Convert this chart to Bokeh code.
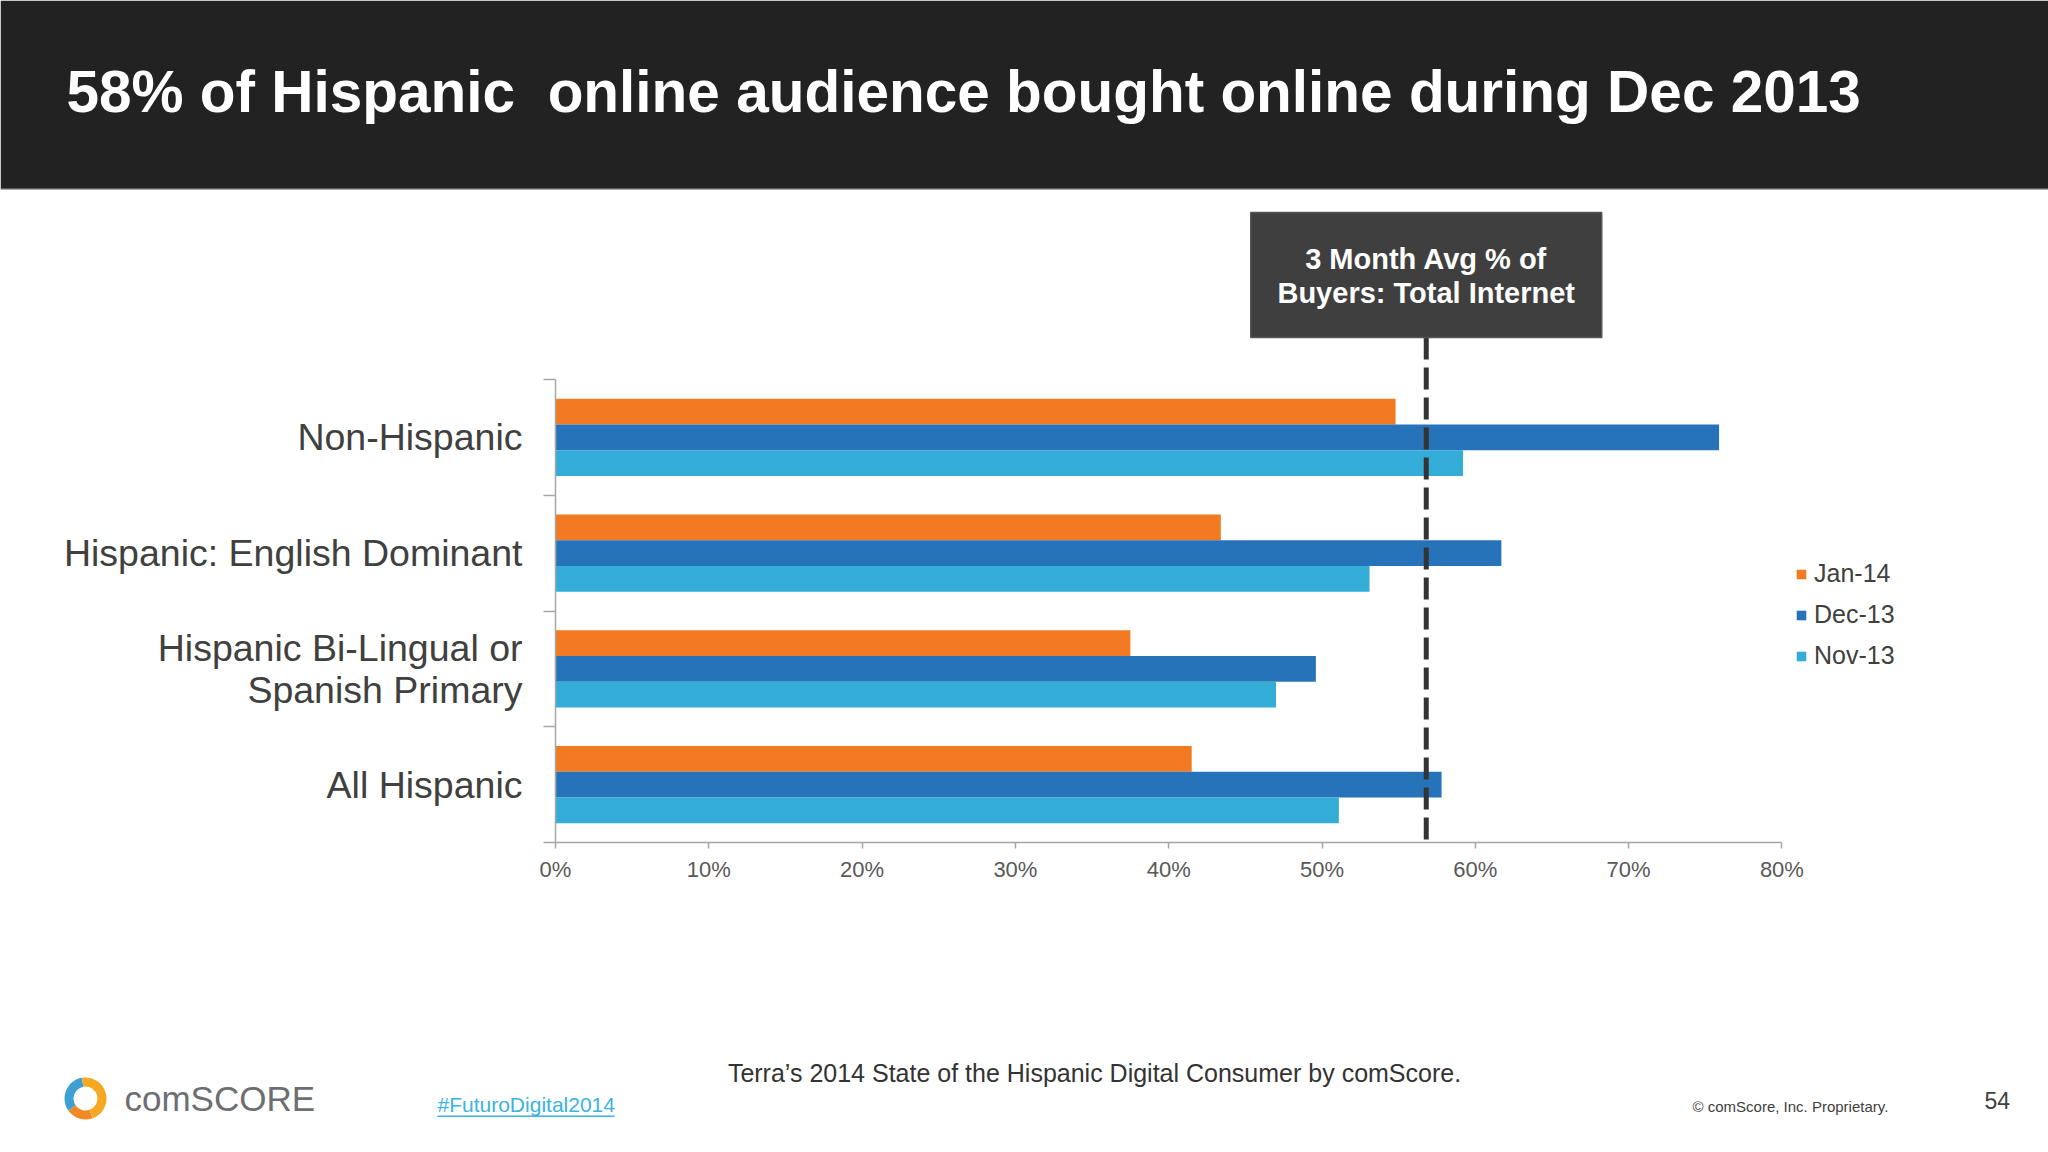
from bokeh.plotting import figure
from bokeh.models import (Range1d, FixedTicker, Legend, LegendItem, Label, LinearAxis,
                          BoxAnnotation)
from bokeh.embed import file_html
from bokeh.resources import INLINE

# ---------------- data ----------------
categories = ["All Hispanic", "Hispanic Bi-Lingual or\nSpanish Primary",
              "Hispanic: English Dominant", "Non-Hispanic"]
series_names = ["Jan-14", "Dec-13", "Nov-13"]
jan14 = [41.5, 37.5, 43.4, 54.8]
dec13 = [57.8, 49.6, 61.7, 75.9]
nov13 = [51.1, 47.0, 53.1, 59.2]
avg_total_internet = 56.8
x_ticks = [0, 10, 20, 30, 40, 50, 60, 70, 80]
x_tick_labels = ["0%", "10%", "20%", "30%", "40%", "50%", "60%", "70%", "80%"]

title_text = "58% of Hispanic\u00a0 online audience bought online during Dec 2013"
callout_lines = ["3 Month Avg % of", "Buyers: Total Internet"]
source_text = "Terra\u2019s 2014 State of the Hispanic Digital Consumer by comScore."
hashtag_text = "#FuturoDigital2014"
copyright_text = "\u00a9 comScore, Inc. Proprietary."
page_text = "54"
logo_text = "comSCORE"

# ---------------- geometry (pixels of the 2048x1152 canvas) ----------------
FONT = "Liberation Sans"
W, H = 2048, 1152
X0 = 555.0          # pixel column of the 0% line
Y0 = 842.0          # pixel row of the value axis
PX_PER_PCT = 15.33
PX_PER_CAT = 115.75


def px(X):
    return (X - X0) / PX_PER_PCT


def py(Y):
    return (Y0 - Y) / PX_PER_CAT


colors = ["#f27a22", "#2673b9", "#33acd8"]
offsets = [0.222, 0.0, -0.222]
bar_h = 0.222

p = figure(width=W, height=H, x_range=Range1d(px(0), px(W)), y_range=Range1d(py(H), py(0)),
           output_backend="svg", toolbar_location=None, min_border=0,
           x_axis_location=None, y_axis_location=None,
           outline_line_color=None, background_fill_color="white", border_fill_color="white")
p.grid.visible = False

# header bar + title
p.add_layout(BoxAnnotation(bottom=py(188), fill_color="#222222", fill_alpha=1.0,
                           line_color=None, level="underlay"))
p.add_layout(BoxAnnotation(bottom=py(189), top=py(187.5), fill_color="#5a5a5a", fill_alpha=1.0,
                           line_color=None, level="underlay"))
p.add_layout(Label(x=px(66), y=py(91), text=title_text, text_font=FONT,
                   text_font_style="bold", text_font_size="58.5px", text_color="white",
                   text_baseline="middle"))

# bars
cat_pos = [i + 0.5 for i in range(len(categories))]
renderers = []
for vals, col, off in zip([jan14, dec13, nov13], colors, offsets):
    r = p.hbar(y=[c + off for c in cat_pos], left=0, right=vals, height=bar_h,
               fill_color=col, line_color=None)
    renderers.append(r)

# dashed average line + callout box
CALLOUT_HALF_W = 175.5 / PX_PER_PCT
p.segment(x0=[avg_total_internet], y0=[py(337)], x1=[avg_total_internet], y1=[py(845)],
          line_color="#333333", line_width=5, line_dash="22 8")
p.quad(left=[avg_total_internet - CALLOUT_HALF_W], right=[avg_total_internet + CALLOUT_HALF_W],
       bottom=[py(337)], top=[py(212)], fill_color="#3f3f3f", line_color="#555555",
       line_width=1.5)
for line, Y in zip(callout_lines, [258, 292]):
    p.add_layout(Label(x=avg_total_internet, y=py(Y), text=line,
                       text_align="center", text_baseline="middle", text_font=FONT,
                       text_font_style="bold", text_font_size="29px", text_color="white"))

# y axis (categories)
ya = LinearAxis(fixed_location=0)
ya.ticker = FixedTicker(ticks=cat_pos, minor_ticks=list(range(len(categories) + 1)))
ya.major_label_overrides = {c: lab for c, lab in zip(cat_pos, categories)}
ya.bounds = (0, len(categories))
ya.axis_line_color = "#a6a6a6"
ya.axis_line_width = 1.5
ya.major_tick_out = 0
ya.major_tick_in = 0
ya.minor_tick_out = 12
ya.minor_tick_in = 0
ya.minor_tick_line_color = "#a6a6a6"
ya.minor_tick_line_width = 1.5
ya.major_label_text_font = FONT
ya.major_label_text_font_size = "37.5px"
ya.major_label_text_color = "#404040"
ya.major_label_text_line_height = 1.0
ya.major_label_standoff = 21
p.add_layout(ya, "left")

# x axis (percent)
xa = LinearAxis(fixed_location=0)
xa.ticker = FixedTicker(ticks=x_ticks, minor_ticks=[])
xa.major_label_overrides = {t: lab for t, lab in zip(x_ticks, x_tick_labels)}
xa.bounds = (x_ticks[0], x_ticks[-1])
xa.axis_line_color = "#a6a6a6"
xa.axis_line_width = 1.5
xa.major_tick_out = 6
xa.major_tick_in = 0
xa.major_tick_line_color = "#a6a6a6"
xa.major_tick_line_width = 1.5
xa.minor_tick_line_color = None
xa.major_label_text_font = FONT
xa.major_label_text_font_size = "22px"
xa.major_label_text_color = "#595959"
xa.major_label_standoff = 8
p.add_layout(xa, "below")

legend = Legend(items=[LegendItem(label=n, renderers=[r]) for n, r in zip(series_names, renderers)],
                location=(1795, 482), orientation="vertical", glyph_width=12, glyph_height=12,
                label_text_font=FONT, label_text_font_size="25px", label_text_color="#404040",
                label_standoff=7, spacing=12, padding=0, margin=0,
                background_fill_alpha=0, border_line_color=None)
p.add_layout(legend)

# ---------------- footer ----------------
p.add_layout(Label(x=px(1094), y=py(1072), text=source_text,
                   text_align="center", text_baseline="middle", text_font=FONT,
                   text_font_size="25px", text_color="#333333"))
p.add_layout(Label(x=px(437), y=py(1104), text=hashtag_text,
                   text_baseline="middle", text_font=FONT,
                   text_font_size="21px", text_color="#3bb3e4"))
p.add_layout(BoxAnnotation(left=px(437), right=px(614), bottom=py(1116.5), top=py(1115),
                           fill_color="#3bb3e4", fill_alpha=1.0, line_color=None))
p.add_layout(Label(x=px(1692), y=py(1106), text=copyright_text,
                   text_baseline="middle", text_font=FONT,
                   text_font_size="15px", text_color="#404040"))
p.add_layout(Label(x=px(1984), y=py(1100), text=page_text,
                   text_baseline="middle", text_font=FONT,
                   text_font_size="23px", text_color="#404040"))

# logo: ring icon + word mark
logo_x, logo_y = px(85), py(1098)
for a0, a1, col in [(100, 215, "#3d9fd2"), (215, 290, "#f08a24"), (290, 100, "#f7a823")]:
    p.annular_wedge(x=[logo_x], y=[logo_y], inner_radius=12, outer_radius=21,
                    inner_radius_units="screen", outer_radius_units="screen",
                    start_angle=a0, end_angle=a1, start_angle_units="deg",
                    end_angle_units="deg", fill_color=col, line_color=None)
p.add_layout(Label(x=px(124), y=py(1098), text=logo_text,
                   text_baseline="middle", text_font=FONT,
                   text_font_size="35px", text_color="#6d6e71"))

open("out.html", "w").write(file_html(p, INLINE))
